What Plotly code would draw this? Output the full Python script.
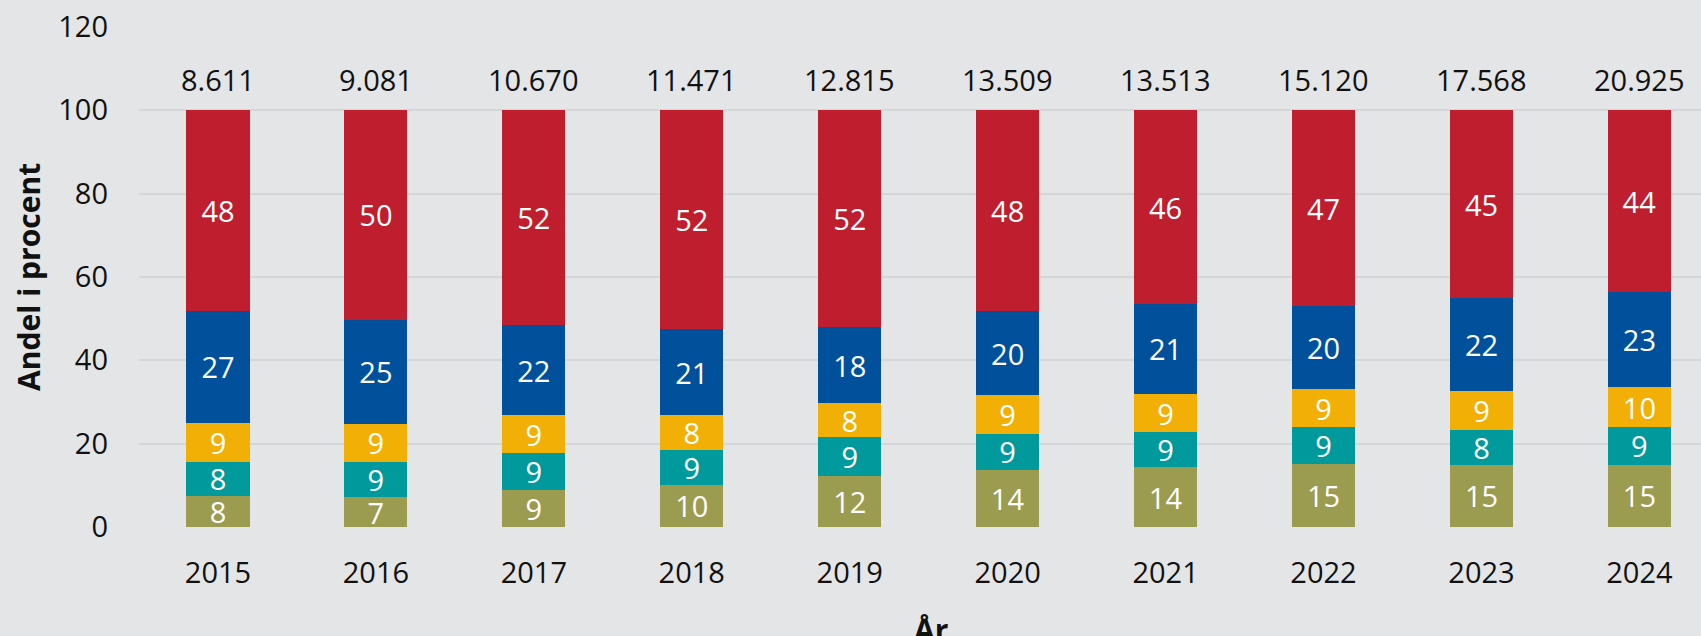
import plotly.graph_objects as go

years = ["2015", "2016", "2017", "2018", "2019", "2020", "2021", "2022", "2023", "2024"]
totals = ["8.611", "9.081", "10.670", "11.471", "12.815", "13.509", "13.513", "15.120", "17.568", "20.925"]

olive = [7.5, 7.1, 9.0, 10.2, 12.3, 13.8, 14.3, 15.1, 15.0, 15.0]
teal = [8.2, 8.6, 8.7, 8.4, 9.2, 8.5, 8.4, 8.8, 8.2, 8.9]
yellow = [9.3, 9.0, 9.1, 8.2, 8.2, 9.3, 9.3, 9.2, 9.5, 9.7]
blue = [26.9, 25.1, 21.7, 20.7, 18.3, 20.2, 21.5, 20.0, 22.3, 22.8]
red = [48.1, 50.2, 51.5, 52.5, 52.0, 48.2, 46.5, 46.9, 45.0, 43.6]

olive_lbl = [8, 7, 9, 10, 12, 14, 14, 15, 15, 15]
teal_lbl = [8, 9, 9, 9, 9, 9, 9, 9, 8, 9]
yellow_lbl = [9, 9, 9, 8, 8, 9, 9, 9, 9, 10]
blue_lbl = [27, 25, 22, 21, 18, 20, 21, 20, 22, 23]
red_lbl = [48, 50, 52, 52, 52, 48, 46, 47, 45, 44]

FONT = "Open Sans"
BG = "#E4E5E7"

series = [
    (olive, olive_lbl, "#9C9C50"),
    (teal, teal_lbl, "#009A9D"),
    (yellow, yellow_lbl, "#F2AF05"),
    (blue, blue_lbl, "#00509B"),
    (red, red_lbl, "#BE1E2D"),
]

fig = go.Figure()
for vals, lbls, col in series:
    fig.add_trace(go.Bar(
        x=years, y=vals, text=[str(v) for v in lbls],
        marker=dict(color=col, line=dict(width=0)),
        textposition="inside", insidetextanchor="middle", textangle=0,
        insidetextfont=dict(color="white", size=29, family=FONT),
        hoverinfo="skip", showlegend=False,
    ))

stack_tops = [sum(s[0][i] for s in series) for i in range(len(years))]
for i, (top, t) in enumerate(zip(stack_tops, totals)):
    fig.add_annotation(x=i, y=top, text=t, showarrow=False, xref="x", yref="y",
                       yanchor="middle", yshift=31,
                       font=dict(size=29, color="#111111", family=FONT))

fig.add_annotation(x=-0.0711, y=0.5, xref="paper", yref="paper", text="<b>Andel i procent</b>",
                   textangle=-90, showarrow=False, xanchor="center", yanchor="middle",
                   font=dict(size=30, color="#111111", family=FONT))
fig.add_annotation(x=0.507, y=-0.205, xref="paper", yref="paper", text="<b>År</b>",
                   showarrow=False, xanchor="center", yanchor="middle",
                   font=dict(size=30, color="#111111", family=FONT))

fig.update_layout(
    width=1701, height=636,
    barmode="stack", bargap=0.6,
    paper_bgcolor=BG, plot_bgcolor=BG,
    margin=dict(l=139, r=0, t=27, b=109),
    uniformtext=dict(minsize=29, mode="show"),
    font=dict(family=FONT, color="#111111"),
)
fig.update_xaxes(type="category", range=[-0.5, 9.39], showgrid=False, zeroline=False, showline=False,
                 ticks="", ticklabelstandoff=26, tickfont=dict(size=29, color="#111111", family=FONT))
fig.update_yaxes(range=[0, 120], dtick=20, tick0=0, showgrid=True, gridcolor="#D5D6D8", gridwidth=2,
                 zeroline=False, showline=False, ticks="", ticklabelstandoff=30,
                 tickfont=dict(size=29, color="#111111", family=FONT))

fig.write_html("out.html", config={"displayModeBar": False},
               post_script="document.body.style.margin='0';document.body.style.overflow='hidden';")
